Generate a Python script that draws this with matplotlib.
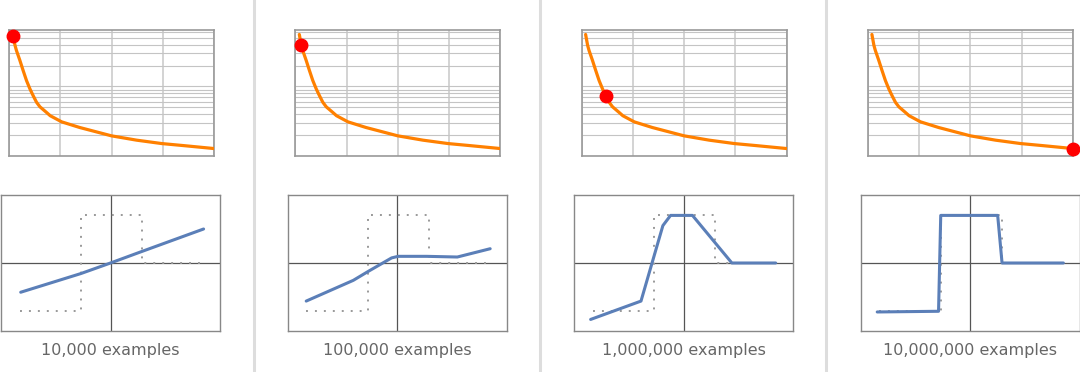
import numpy as np
import matplotlib
matplotlib.use("Agg")
import matplotlib.pyplot as plt
from matplotlib.ticker import LogLocator, NullFormatter

# training curve (x in millions of examples)
steps_m = [0, 0.01, 0.1, 0.17, 0.34, 0.5, 0.67, 0.84, 1.0, 1.17, 1.34, 1.66,
           1.85, 2.42, 3.32, 4.9, 6.15, 7.4, 8.5, 10.0]
loss = [0.56, 0.54, 0.39, 0.33, 0.238, 0.171, 0.122, 0.0925, 0.074, 0.0593,
        0.051, 0.0425, 0.038, 0.031, 0.0257, 0.0195, 0.0169, 0.0151, 0.0141, 0.0128]

labels = ["10,000 examples", "100,000 examples", "1,000,000 examples", "10,000,000 examples"]
marker_x = [0.01, 0.1, 1.0, 10.0]
marker_loss = [0.54, 0.39, 0.074, 0.0128]

# target function (dotted)
target_x = [-0.83, -0.27, -0.27, 0.29, 0.29, 0.84]
target_y = [-0.71, -0.71, 0.71, 0.71, 0.0, 0.0]

# network output after each amount of training
fit_x = [
    [-0.82, -0.27, 0.0, 0.27, 0.85],
    [-0.83, -0.40, -0.26, -0.05, 0.01, 0.27, 0.55, 0.85],
    [-0.85, -0.39, -0.19, -0.12, 0.08, 0.44, 0.84],
    [-0.85, -0.29, -0.27, 0.25, 0.29, 0.85],
]
fit_y = [
    [-0.43, -0.155, 0.0, 0.16, 0.5],
    [-0.56, -0.255, -0.12, 0.075, 0.098, 0.098, 0.088, 0.21],
    [-0.83, -0.56, 0.55, 0.70, 0.70, 0.0, 0.0],
    [-0.72, -0.71, 0.70, 0.70, 0.0, 0.0],
]

W, H = 1080, 372
fig = plt.figure(figsize=(W / 100, H / 100), dpi=100)
fig.patch.set_facecolor("white")

# light separators between panels
for sx in [254, 540, 826]:
    fig.add_artist(plt.Line2D([sx / W, sx / W], [0, 1], color="#dddddd", lw=2.2,
                              transform=fig.transFigure))

xlim = (-0.2, 10.0)
for i in range(4):
    # loss curve
    left = 9 + 286.3 * i
    ax = fig.add_axes([left / W, (H - 156) / H, 205 / W, 126 / H])
    ax.set_yscale("log")
    ax.set_ylim(0.01, 0.65)
    ax.set_xlim(*xlim)
    ax.set_xticks(np.linspace(xlim[0], xlim[1], 5))
    ax.yaxis.set_major_locator(LogLocator(base=10))
    ax.yaxis.set_minor_locator(LogLocator(base=10, subs=range(2, 10)))
    ax.yaxis.set_minor_formatter(NullFormatter())
    ax.grid(True, which="both", axis="y", color="#c4c4c4", lw=0.8)
    ax.grid(True, axis="x", color="#c8c8c8", lw=1.1)
    ax.tick_params(which="both", length=0, labelleft=False, labelbottom=False)
    for s in ax.spines.values():
        s.set_color("#999999")
        s.set_linewidth(1.2)
    ax.plot(steps_m, loss, color="#ff8000", lw=2.3, solid_capstyle="round",
            solid_joinstyle="round", zorder=3)
    ax.plot([marker_x[i]], [marker_loss[i]], "o", color="#ff0000", ms=9,
            clip_on=False, zorder=5)

    # function fit
    bl = 1 + 286.6 * i
    bx = fig.add_axes([bl / W, (H - 331) / H, 219 / W, 136 / H])
    bx.set_xlim(-1, 1)
    bx.set_ylim(-1, 1)
    bx.set_xticks([])
    bx.set_yticks([])
    for s in bx.spines.values():
        s.set_color("#888888")
        s.set_linewidth(1.0)
    bx.axhline(0, color="#555555", lw=0.9, zorder=1)
    bx.axvline(0, color="#555555", lw=0.9, zorder=1)
    bx.plot(target_x, target_y, color="#999999", lw=1.4, linestyle=(0, (1, 3.6)), zorder=2)
    bx.plot(fit_x[i], fit_y[i], color="#5b7fb8", lw=2.2, solid_capstyle="round",
            solid_joinstyle="round", zorder=3)

    fig.text((bl + 109.5) / W, (H - 351) / H, labels[i], ha="center", va="center",
             fontsize=11.5, color="#666666", family="DejaVu Sans")

fig.savefig("out.png", dpi=100, facecolor="white")
